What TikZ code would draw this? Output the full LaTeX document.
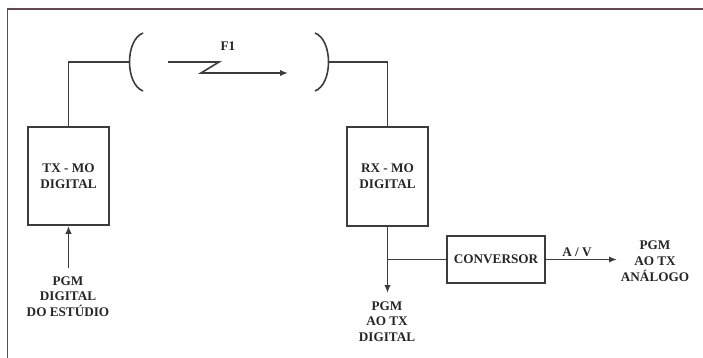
\documentclass[tikz,border=0pt]{standalone}
\usepackage{fontspec}
\setmainfont{Liberation Serif}
\usetikzlibrary{arrows.meta}
\definecolor{framecol}{RGB}{105,70,80}
\definecolor{linecol}{RGB}{60,60,60}
\begin{document}
\begin{tikzpicture}[x=1pt,y=-1pt,
  ln/.style={draw=linecol,line width=1.6pt},
  arr/.style={ln,-{Latex[length=8pt,width=6.5pt]}},
  blk/.style={draw=linecol,line width=1.6pt,minimum width=81pt,inner sep=0pt},
  lbl/.style={font=\fontsize{13.2}{15.8}\selectfont\bfseries,text=black!85,align=center,inner sep=0pt}]
\useasboundingbox (0,0) rectangle (703,358);
\fill[white] (0,0) rectangle (703,358);
% frame
\draw[framecol,line width=1.6pt] (7.5,358) -- (7.5,9) -- (703,9);
% blocks
\node[blk,minimum height=98pt,lbl,draw=linecol] (tx) at (68.5,176) {TX - MO\\DIGITAL};
\node[blk,minimum height=99pt,lbl,draw=linecol] (rx) at (387.5,176.5) {RX - MO\\DIGITAL};
\node[blk,minimum width=98pt,minimum height=47pt,lbl,draw=linecol] (conv) at (496,259.5) {CONVERSOR};
% antennas (parentheses)
\coordinate (lp) at (129.5,62);
\coordinate (rp) at (328.5,62);
\draw[ln] (143,33) .. controls (125,40) and (125,84) .. (143,91);
\draw[ln] (315,33) .. controls (333,40) and (333,84) .. (315,91);
\draw[ln] (tx.north) |- (lp);
\draw[ln] (rp) -| (rx.north);
% radio link
\coordinate (z1) at (168,62);
\coordinate (z2) at (219,62);
\coordinate (z3) at (201,73);
\coordinate (z4) at (288,73);
\draw[arr] (z1) -- (z2) -- (z3) -- (z4);
\node[lbl] (f1) at (228,46) {F1};
% inputs / outputs
\node[lbl] (src) at (68,296.5) {PGM\\DIGITAL\\DO ESTÚDIO};
\coordinate (srctop) at (68.5,268);
\draw[arr] (srctop) -- (tx.south);
\coordinate (digtip) at (387.5,293);
\draw[arr] (rx.south) -- (digtip);
\node[lbl] (dig) at (387,321.5) {PGM\\AO TX\\DIGITAL};
\draw[ln] (rx.south |- conv.west) -- (conv.west);
\coordinate (anatip) at (617,259.5);
\draw[arr] (conv.east) -- (anatip);
\node[lbl] (av) at (577,252) {A / V};
\node[lbl] (ana) at (655,261) {PGM\\AO TX\\ANÁLOGO};
\end{tikzpicture}
\end{document}
